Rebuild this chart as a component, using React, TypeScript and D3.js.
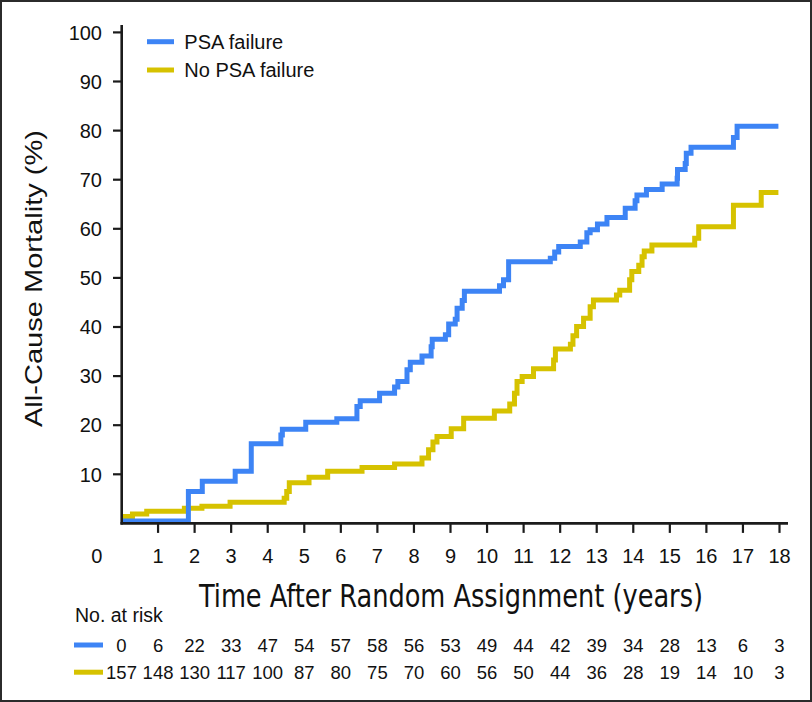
import React from "react";
import * as d3 from "d3";

const seriesNames = ["PSA failure", "No PSA failure"];
const seriesColors = ["#3d84f5", "#d6c200"];

// [time (years), cumulative all-cause mortality (%)]
const psaFailure: [number, number][] = [
  [0, 0.5], [1.83, 6.5], [2.21, 8.6], [3.11, 10.6], [3.55, 16.2], [4.36, 18.0], [4.40, 19.2],
  [5.04, 20.6], [5.89, 21.3], [6.44, 23.8], [6.53, 25.0], [7.06, 26.5], [7.47, 27.8], [7.56, 28.9],
  [7.81, 31.3], [7.9, 32.8], [8.22, 34.1], [8.47, 36.0], [8.5, 37.5], [8.86, 38.4], [8.95, 40.6],
  [9.13, 41.6], [9.18, 43.8], [9.32, 45.4], [9.38, 47.3], [10.34, 48.4], [10.45, 49.6], [10.59, 53.3],
  [11.73, 54.0], [11.85, 55.3], [11.96, 56.4], [12.55, 57.3], [12.73, 59.2], [12.82, 59.8],
  [13.02, 61.0], [13.28, 62.3], [13.78, 64.2], [14.05, 65.7], [14.1, 66.9], [14.36, 68.0],
  [14.79, 69.1], [15.2, 70.3], [15.21, 72.1], [15.42, 73.3], [15.45, 75.4], [15.58, 76.6],
  [16.74, 78.6], [16.84, 80.9], [17.97, 80.9],
];

const noPsaFailure: [number, number][] = [
  [0, 1.4], [0.3, 1.9], [0.69, 2.5], [1.72, 3.1], [2.2, 3.5], [2.97, 4.3], [4.45, 5.1], [4.52, 6.5],
  [4.59, 8.3], [5.13, 9.4], [5.64, 10.6], [6.58, 11.4], [7.47, 12.1], [8.22, 13.3], [8.4, 15.0],
  [8.52, 16.6], [8.63, 17.7], [9.02, 19.3], [9.36, 21.4], [10.2, 22.9], [10.62, 24.3], [10.75, 26.5],
  [10.82, 28.9], [10.96, 29.9], [11.27, 31.5], [11.82, 33.3], [11.87, 35.5], [12.28, 36.5],
  [12.35, 38.2], [12.45, 40.1], [12.64, 41.8], [12.82, 44.1], [12.91, 45.5], [13.54, 46.5],
  [13.63, 47.5], [13.9, 49.6], [13.96, 51.3], [14.15, 52.6], [14.24, 54.3], [14.3, 55.5],
  [14.51, 56.7], [15.68, 58.1], [15.79, 60.4], [16.74, 64.8], [17.5, 67.4], [17.97, 67.4],
];

const xTicks = d3.range(1, 19);
const yTicks = [10, 20, 30, 40, 50, 60, 70, 80, 90, 100];
const riskTimes = d3.range(0, 19);
const riskPsaFailure = [0, 6, 22, 33, 47, 54, 57, 58, 56, 53, 49, 44, 42, 39, 34, 28, 13, 6, 3];
const riskNoPsaFailure = [157, 148, 130, 117, 100, 87, 80, 75, 70, 60, 56, 50, 44, 36, 28, 19, 14, 10, 3];

const xTitle = "Time After Random Assignment (years)";
const yTitle = "All-Cause Mortality (%)";
const riskTitle = "No. at risk";

const W = 812;
const H = 702;

export default function App() {
  const x = d3.scaleLinear().domain([0, 18]).range([121.5, 779.5]);
  const y = d3.scaleLinear().domain([0, 100]).range([523.4, 32.4]);
  const line = d3
    .line<[number, number]>()
    .x((d) => x(d[0]))
    .y((d) => y(d[1]))
    .curve(d3.curveStepAfter);

  const axisColor = "#1b1b1b";
  const sans = "'Liberation Sans', Arial, Helvetica, sans-serif";
  const narrow = "'Liberation Sans Narrow', 'DejaVu Sans Condensed', 'Liberation Sans', sans-serif";
  const data = [psaFailure, noPsaFailure];
  const risks = [riskPsaFailure, riskNoPsaFailure];
  const y0 = y(0);

  return (
    <svg
      width={W}
      height={H}
      style={{ position: "absolute", left: 0, top: 0, background: "#fff" }}
      xmlns="http://www.w3.org/2000/svg"
    >
      <rect x={0} y={0} width={W} height={H} fill="#fff" />
      <rect x={1} y={1} width={W - 2} height={H - 2} fill="none" stroke="#2b2b2b" strokeWidth={2} />

      {/* curves: yellow first, blue on top */}
      {[1, 0].map((i) => (
        <path
          key={i}
          d={line(data[i]) || ""}
          fill="none"
          stroke={seriesColors[i]}
          strokeWidth={5}
          strokeLinejoin="miter"
        />
      ))}

      {/* axes */}
      <line x1={121.7} x2={121.7} y1={25} y2={y0 + 1.2} stroke={axisColor} strokeWidth={2.6} />
      <line x1={120.5} x2={788} y1={y0} y2={y0} stroke={axisColor} strokeWidth={2.6} />
      {yTicks.map((t) => (
        <g key={"y" + t}>
          <line x1={113} x2={121.7} y1={y(t)} y2={y(t)} stroke={axisColor} strokeWidth={2.2} />
          <text x={102} y={y(t) + 7.2} fontFamily={sans} fontSize={20} textAnchor="end" fill="#111">
            {t}
          </text>
        </g>
      ))}
      {xTicks.map((t) => (
        <g key={"x" + t}>
          <line x1={x(t)} x2={x(t)} y1={y0} y2={y0 + 9.5} stroke={axisColor} strokeWidth={2.2} />
          <text x={x(t)} y={563.2} fontFamily={sans} fontSize={20} textAnchor="middle" fill="#111">
            {t}
          </text>
        </g>
      ))}
      <text x={96.7} y={563.2} fontFamily={sans} fontSize={20} textAnchor="middle" fill="#111">
        0
      </text>

      {/* titles */}
      <text
        x={451}
        y={607}
        fontFamily={narrow}
        fontSize={32}
        textAnchor="middle"
        textLength={504}
        lengthAdjust="spacingAndGlyphs"
        fill="#111"
      >
        {xTitle}
      </text>
      <text
        transform="translate(41.5,278.5) rotate(-90)"
        fontFamily={sans}
        fontSize={24}
        textAnchor="middle"
        textLength={297}
        lengthAdjust="spacingAndGlyphs"
        fill="#111"
      >
        {yTitle}
      </text>

      {/* legend */}
      {seriesNames.map((n, i) => (
        <g key={n}>
          <line x1={147} x2={174} y1={41.7 + i * 28.3} y2={41.7 + i * 28.3} stroke={seriesColors[i]} strokeWidth={5} />
          <text x={184.3} y={41.7 + i * 28.3 + 7.2} fontFamily={sans} fontSize={20} fill="#111">
            {n}
          </text>
        </g>
      ))}

      {/* number at risk */}
      <text x={75} y={621.5} fontFamily={sans} fontSize={19.5} fill="#111">
        {riskTitle}
      </text>
      {risks.map((row, i) => {
        const cy = 645 + i * 27.2;
        return (
          <g key={"r" + i}>
            <line x1={74} x2={103} y1={cy} y2={cy} stroke={seriesColors[i]} strokeWidth={5} />
            {row.map((v, j) => (
              <text
                key={j}
                x={x(riskTimes[j])}
                y={cy + 6.6}
                fontFamily={sans}
                fontSize={18.5}
                textAnchor="middle"
                fill="#111"
              >
                {v}
              </text>
            ))}
          </g>
        );
      })}
    </svg>
  );
}
